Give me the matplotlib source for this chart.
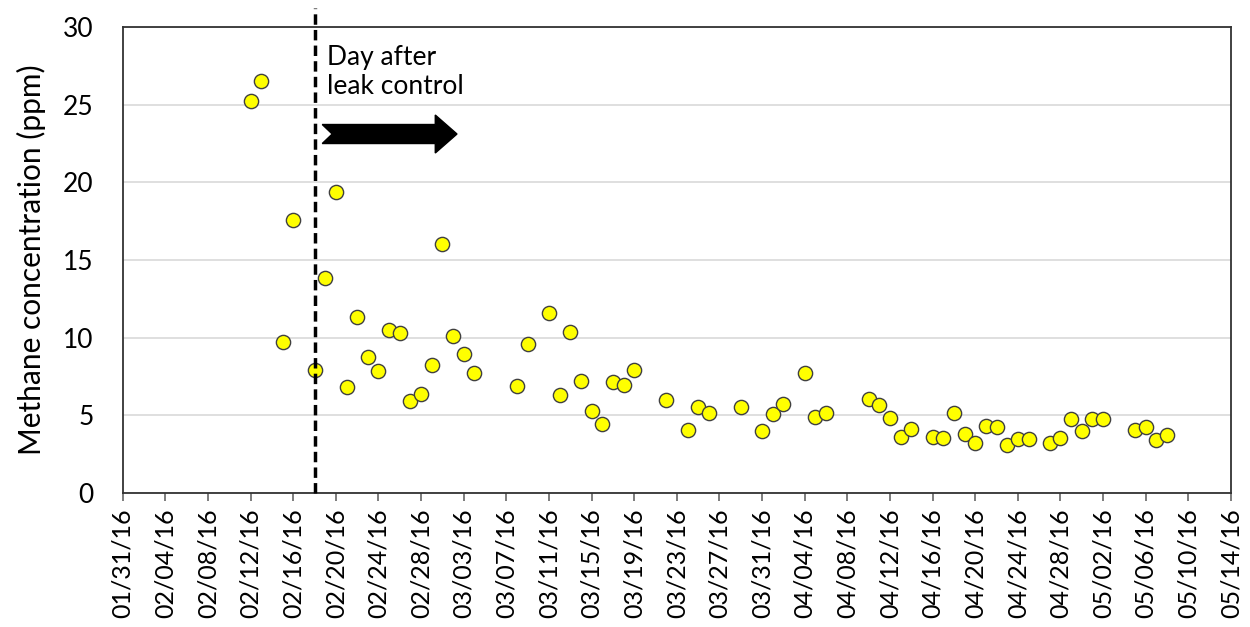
import matplotlib
matplotlib.use("Agg")
import matplotlib.pyplot as plt
from matplotlib.patches import Polygon
import pandas as pd

# ---- data -------------------------------------------------------------
dates = [
    "2016-02-12", "2016-02-13", "2016-02-15", "2016-02-16", "2016-02-18",
    "2016-02-19", "2016-02-20", "2016-02-21", "2016-02-22", "2016-02-23",
    "2016-02-24", "2016-02-25", "2016-02-26", "2016-02-27", "2016-02-28",
    "2016-02-29", "2016-03-01", "2016-03-02", "2016-03-03", "2016-03-04",
    "2016-03-08", "2016-03-09", "2016-03-11", "2016-03-12", "2016-03-13",
    "2016-03-14", "2016-03-15", "2016-03-16", "2016-03-17", "2016-03-18",
    "2016-03-19", "2016-03-22", "2016-03-24", "2016-03-25", "2016-03-26",
    "2016-03-29", "2016-03-31", "2016-04-01", "2016-04-02", "2016-04-04",
    "2016-04-05", "2016-04-06", "2016-04-10", "2016-04-11", "2016-04-12",
    "2016-04-13", "2016-04-14", "2016-04-16", "2016-04-17", "2016-04-18",
    "2016-04-19", "2016-04-20", "2016-04-21", "2016-04-22", "2016-04-23",
    "2016-04-24", "2016-04-25", "2016-04-27", "2016-04-28", "2016-04-29",
    "2016-04-30", "2016-05-01", "2016-05-02", "2016-05-05", "2016-05-06",
    "2016-05-07", "2016-05-08",
]
methane_ppm = [
    25.26, 26.55, 9.74, 17.58, 7.92,
    13.82, 19.40, 6.85, 11.31, 8.74,
    7.86, 10.50, 10.30, 5.95, 6.36,
    8.26, 16.05, 10.11, 8.95, 7.73,
    6.89, 9.62, 11.59, 6.29, 10.37,
    7.23, 5.26, 4.46, 7.17, 6.95,
    7.92, 6.01, 4.04, 5.54, 5.13,
    5.56, 3.97, 5.07, 5.73, 7.71,
    4.91, 5.13, 6.03, 5.67, 4.85,
    3.63, 4.12, 3.63, 3.56, 5.13,
    3.78, 3.24, 4.31, 4.25, 3.07,
    3.50, 3.50, 3.22, 3.52, 4.79,
    3.97, 4.74, 4.79, 4.04, 4.25,
    3.43, 3.72,
]
leak_control_date = "2016-02-18"
x_start, x_end = "2016-01-31", "2016-05-14"
tick_step_days = 4
y_ticks = [0, 5, 10, 15, 20, 25, 30]
y_label = "Methane concentration (ppm)"
annotation_text = "Day after\nleak control"

# ---- figure -----------------------------------------------------------
plt.rcParams["font.family"] = ["Lato", "DejaVu Sans"]

fig = plt.figure(figsize=(12.5, 6.27), dpi=100)
ax = fig.add_axes([0.0982, 0.2137, 0.8866, 0.7432])

x = pd.to_datetime(dates)
ax.scatter(x, methane_ppm, s=105, facecolor="#FFFF00", edgecolor="#404040",
           linewidth=1.0, zorder=3)

# x axis
xs, xe = pd.Timestamp(x_start), pd.Timestamp(x_end)
ax.set_xlim(xs, xe)
ticks = pd.date_range(xs, xe, freq=f"{tick_step_days}D")
ax.set_xticks(ticks)
ax.set_xticklabels([t.strftime("%m/%d/%y") for t in ticks], rotation=90,
                   fontsize=18)
ax.tick_params(axis="x", direction="out", length=6, width=1.2,
               color="#666666", pad=5)

# y axis
ax.set_ylim(0, 30)
ax.set_yticks(y_ticks)
ax.set_yticklabels([str(v) for v in y_ticks], fontsize=19)
ax.tick_params(axis="y", length=0, pad=21)
ax.set_ylabel(y_label, fontsize=21.5, labelpad=12)

ax.grid(axis="y", color="#D9D9D9", linewidth=1.2)
ax.set_axisbelow(True)
for sp in ax.spines.values():
    sp.set_color("#333333")
    sp.set_linewidth(1.3)

# vertical dashed line (extends above the plot frame)
ax.axvline(pd.Timestamp(leak_control_date), ymin=0, ymax=1.04, color="black",
           linestyle=(0, (3, 1.5)), linewidth=2.5, clip_on=False, zorder=4)

# annotation text
ax.text(0.184, 0.962, annotation_text, transform=ax.transAxes, fontsize=19,
        va="top", ha="left", linespacing=1.2)

# notched block arrow
x0, xn, xh, xt = 0.180, 0.189, 0.282, 0.3016
yc, bh, hh = 0.7704, 0.0204, 0.0408
arrow = Polygon([(x0, yc + bh), (xh, yc + bh), (xh, yc + hh), (xt, yc),
                 (xh, yc - hh), (xh, yc - bh), (x0, yc - bh), (xn, yc)],
                closed=True, transform=ax.transAxes, facecolor="black",
                edgecolor="black", zorder=4)
ax.add_patch(arrow)

fig.savefig("out.png", dpi=100)
